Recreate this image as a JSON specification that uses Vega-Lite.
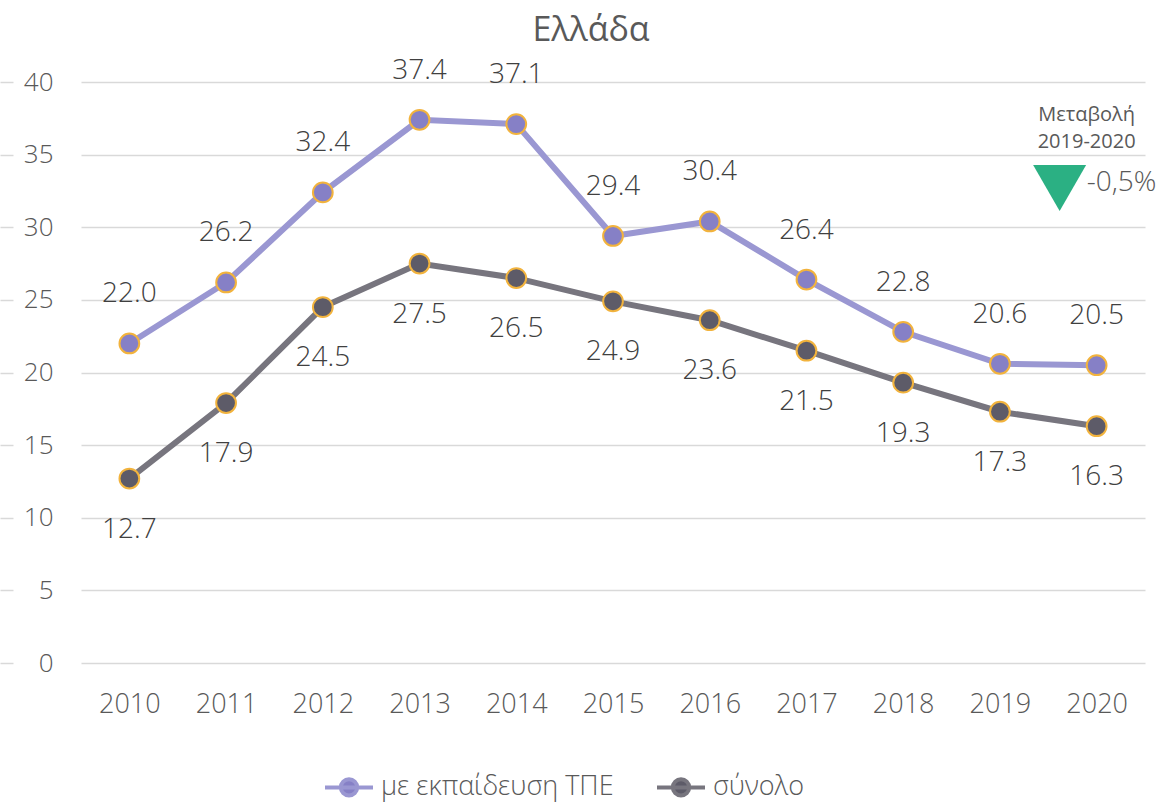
{
  "$schema": "https://vega.github.io/schema/vega-lite/v6.json",
  "width": 1064,
  "height": 581,
  "autosize": {"type": "none"},
  "padding": {"left": 81, "top": 82, "right": 21, "bottom": 142},
  "background": "white",
  "config": {"view": {"stroke": null}, "font": "Open Sans"},
  "title": {"text": "Ελλάδα", "anchor": "middle", "frame": "group", "offset": 9, "dx": -22, "fontSize": 34, "fontWeight": "normal", "color": "#595959", "font": "Open Sans"},
  "data": {"values": [
    {"year": "2010", "series": "με εκπαίδευση ΤΠΕ", "value": 22.0},
    {"year": "2011", "series": "με εκπαίδευση ΤΠΕ", "value": 26.2},
    {"year": "2012", "series": "με εκπαίδευση ΤΠΕ", "value": 32.4},
    {"year": "2013", "series": "με εκπαίδευση ΤΠΕ", "value": 37.4},
    {"year": "2014", "series": "με εκπαίδευση ΤΠΕ", "value": 37.1},
    {"year": "2015", "series": "με εκπαίδευση ΤΠΕ", "value": 29.4},
    {"year": "2016", "series": "με εκπαίδευση ΤΠΕ", "value": 30.4},
    {"year": "2017", "series": "με εκπαίδευση ΤΠΕ", "value": 26.4},
    {"year": "2018", "series": "με εκπαίδευση ΤΠΕ", "value": 22.8},
    {"year": "2019", "series": "με εκπαίδευση ΤΠΕ", "value": 20.6},
    {"year": "2020", "series": "με εκπαίδευση ΤΠΕ", "value": 20.5},
    {"year": "2010", "series": "σύνολο", "value": 12.7},
    {"year": "2011", "series": "σύνολο", "value": 17.9},
    {"year": "2012", "series": "σύνολο", "value": 24.5},
    {"year": "2013", "series": "σύνολο", "value": 27.5},
    {"year": "2014", "series": "σύνολο", "value": 26.5},
    {"year": "2015", "series": "σύνολο", "value": 24.9},
    {"year": "2016", "series": "σύνολο", "value": 23.6},
    {"year": "2017", "series": "σύνολο", "value": 21.5},
    {"year": "2018", "series": "σύνολο", "value": 19.3},
    {"year": "2019", "series": "σύνολο", "value": 17.3},
    {"year": "2020", "series": "σύνολο", "value": 16.3}
  ]},
  "encoding": {
    "x": {"field": "year", "type": "ordinal", "scale": {"type": "point", "padding": 0.5},
          "axis": {"orient": "bottom", "title": null, "domain": false, "ticks": false, "labels": true, "labelAngle": 0, "labelPadding": 28, "labelFontSize": 27, "labelColor": "#595959", "labelFont": "Open Sans", "labelFontWeight": 300}}
  },
  "layer": [
    {
      "mark": {"type": "line", "strokeWidth": 6},
      "encoding": {
        "y": {"field": "value", "type": "quantitative", "scale": {"domain": [0, 40], "nice": false},
              "axis": {"orient": "left", "title": null, "domain": false, "ticks": false, "values": [0, 5, 10, 15, 20, 25, 30, 35, 40], "grid": true, "gridColor": "#d9d9d9", "gridWidth": 1.5, "labelPadding": 28, "labelFontSize": 26, "labelColor": "#595959", "labelFont": "Open Sans", "labelFontWeight": 300}},
        "stroke": {"field": "series", "type": "nominal",
                   "scale": {"domain": ["με εκπαίδευση ΤΠΕ", "σύνολο"], "range": ["#9a97d2", "#77757e"]},
                   "legend": {"title": null, "orient": "none", "legendX": 242, "legendY": 679, "direction": "horizontal",
                              "symbolType": "M-1,0H1M-0.34,0A0.34,0.34 0 1,0 0.34,0A0.34,0.34 0 1,0 -0.34,0Z",
                              "symbolSize": 2304, "symbolStrokeWidth": 4, "labelFontSize": 27, "labelLimit": 500, "labelColor": "#595959", "labelFont": "Open Sans", "labelFontWeight": 300, "columnPadding": 35, "labelOffset": 6}}
      }
    },
    {
      "mark": {"type": "point", "filled": true, "size": 390, "stroke": "#f2b33d", "strokeWidth": 2, "opacity": 1},
      "encoding": {
        "y": {"field": "value", "type": "quantitative", "axis": null},
        "fill": {"field": "series", "type": "nominal",
                 "scale": {"domain": ["με εκπαίδευση ΤΠΕ", "σύνολο"], "range": ["#8680c6", "#5d5b68"]},
                 "legend": {"title": null, "orient": "none", "legendX": 242, "legendY": 679, "direction": "horizontal",
                            "symbolType": "M-1,0H1M-0.34,0A0.34,0.34 0 1,0 0.34,0A0.34,0.34 0 1,0 -0.34,0Z",
                            "symbolSize": 2304, "symbolStrokeWidth": 4, "labelFontSize": 27, "labelLimit": 500, "labelColor": "#595959", "labelFont": "Open Sans", "labelFontWeight": 300, "columnPadding": 35, "labelOffset": 6}}
      }
    },
    {
      "transform": [{"filter": "datum.series === 'με εκπαίδευση ΤΠΕ'"}],
      "mark": {"type": "text", "dy": -49, "fontSize": 28, "color": "#404040", "font": "Open Sans", "fontWeight": 300},
      "encoding": {
        "y": {"field": "value", "type": "quantitative", "axis": null},
        "text": {"field": "value", "type": "quantitative", "format": ".1f"}
      }
    },
    {
      "transform": [{"filter": "datum.series === 'σύνολο'"}],
      "mark": {"type": "text", "dy": 51, "fontSize": 28, "color": "#404040", "font": "Open Sans", "fontWeight": 300},
      "encoding": {
        "y": {"field": "value", "type": "quantitative",
              "axis": {"orient": "left", "title": null, "labels": false, "grid": false, "domain": false, "ticks": true, "tickSize": 13, "tickColor": "#d9d9d9", "tickWidth": 1.5, "offset": 68, "values": [0, 5, 10, 15, 20, 25, 30, 35, 40]}},
        "text": {"field": "value", "type": "quantitative", "format": ".1f"}
      }
    },
    {
      "transform": [{"filter": "datum.series === 'σύνολο' && datum.year === '2020'"}],
      "mark": {"type": "text", "text": "Μεταβολή", "fontSize": 20, "fontWeight": 400, "color": "#595959", "font": "Open Sans", "dx": -10},
      "encoding": {
        "y": {"datum": 37.73, "type": "quantitative", "axis": null}
      }
    },
    {
      "transform": [{"filter": "datum.series === 'σύνολο' && datum.year === '2020'"}],
      "mark": {"type": "text", "text": "2019-2020", "fontSize": 20, "fontWeight": 400, "color": "#595959", "font": "Open Sans", "dx": -10},
      "encoding": {
        "y": {"datum": 35.87, "type": "quantitative", "axis": null}
      }
    },
    {
      "transform": [{"filter": "datum.series === 'σύνολο' && datum.year === '2020'"}],
      "mark": {"type": "point", "shape": "triangle-down", "filled": true, "size": 2809, "color": "#2bb083", "opacity": 1, "xOffset": -37},
      "encoding": {
        "y": {"datum": 32.7, "type": "quantitative", "axis": null}
      }
    },
    {
      "transform": [{"filter": "datum.series === 'σύνολο' && datum.year === '2020'"}],
      "mark": {"type": "text", "text": "-0,5%", "align": "left", "fontSize": 28, "color": "#595959", "font": "Open Sans", "fontWeight": 300, "dx": -10},
      "encoding": {
        "y": {"datum": 33.05, "type": "quantitative", "axis": null}
      }
    }
  ],
  "resolve": {"axis": {"y": "independent"}}
}
